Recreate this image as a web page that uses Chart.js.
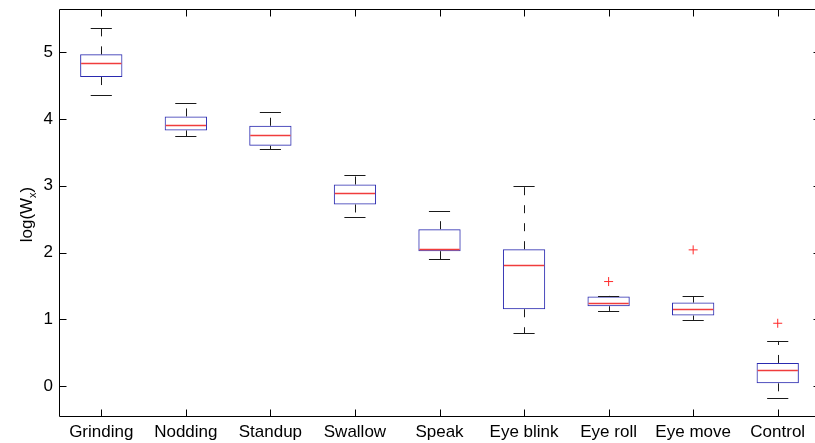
<!DOCTYPE html>
<html>
<head>
<meta charset="utf-8">
<script src="https://cdn.jsdelivr.net/npm/chart.js@4/dist/chart.umd.min.js"></script>
<style>
  html, body { margin: 0; padding: 0; overflow: hidden; background: #fff; }
  canvas { display: block; }
</style>
</head>
<body>
<canvas id="chart" width="828" height="443"></canvas>
<script>
// Box-plot summary of log(W_x) per activity
const categories  = ['Grinding', 'Nodding', 'Standup', 'Swallow', 'Speak', 'Eye blink', 'Eye roll', 'Eye move', 'Control'];
const whiskerLow  = [4.36, 3.74, 3.55, 2.54, 1.90, 0.79, 1.125, 0.99, -0.18];
const quartile1   = [4.63, 3.83, 3.60, 2.72, 2.02, 1.15, 1.195, 1.055, 0.04];
const medians     = [4.84, 3.91, 3.76, 2.89, 2.05, 1.81, 1.24, 1.155, 0.235];
const quartile3   = [4.97, 4.04, 3.90, 3.02, 2.35, 2.05, 1.34, 1.25, 0.345];
const whiskerHigh = [5.37, 4.24, 4.11, 3.16, 2.62, 3.00, 1.35, 1.345, 0.675];
const outliers    = [null, null, null, null, null, null, 1.565, 2.04, 0.94];
const yTicks      = [0, 1, 2, 3, 4, 5];
const yMin = -0.45, yMax = 5.65;

const BOX_BLUE = '#2a2ab0';
const MEDIAN_RED = '#f03c3c';
const FONT = 'Liberation Sans, Arial, Helvetica, sans-serif';

const px = v => Math.round(v) + 0.5;

// Medians, dashed whiskers, caps, frame and inward tick marks
const boxDecor = {
  id: 'boxDecor',
  afterDatasetsDraw(chart) {
    const { ctx, scales: { x, y } } = chart;
    const catW = x.getPixelForValue(1) - x.getPixelForValue(0);
    const boxHalf = catW * 0.25;
    const capHalf = catW * 0.125;
    ctx.save();
    categories.forEach((_, i) => {
      const cx = x.getPixelForValue(i);
      const yLo = y.getPixelForValue(whiskerLow[i]);
      const yQ1 = y.getPixelForValue(quartile1[i]);
      const yQ3 = y.getPixelForValue(quartile3[i]);
      const yHi = y.getPixelForValue(whiskerHigh[i]);
      const yMed = y.getPixelForValue(medians[i]);
      // whiskers
      ctx.lineWidth = 1;
      ctx.strokeStyle = '#1a1a1a';
      ctx.setLineDash([8, 10]);
      ctx.beginPath();
      ctx.moveTo(px(cx), yQ3);
      ctx.lineTo(px(cx), yHi);
      ctx.moveTo(px(cx), yQ1);
      ctx.lineTo(px(cx), yLo);
      ctx.stroke();
      ctx.setLineDash([]);
      // caps
      ctx.beginPath();
      ctx.moveTo(cx - capHalf, px(yHi));
      ctx.lineTo(cx + capHalf, px(yHi));
      ctx.moveTo(cx - capHalf, px(yLo));
      ctx.lineTo(cx + capHalf, px(yLo));
      ctx.stroke();
      // median
      ctx.lineWidth = 1.5;
      ctx.strokeStyle = MEDIAN_RED;
      ctx.beginPath();
      ctx.moveTo(cx - boxHalf + 1, px(yMed));
      ctx.lineTo(cx + boxHalf - 1, px(yMed));
      ctx.stroke();
    });
    ctx.restore();
  },
  afterDraw(chart) {
    const { ctx, chartArea: a, scales: { x, y } } = chart;
    const L = px(a.left), R = px(a.right), T = px(a.top), B = px(a.bottom);
    const tl = 7;
    ctx.save();
    ctx.strokeStyle = '#000';
    ctx.lineWidth = 1;
    ctx.beginPath();
    ctx.rect(L, T, R - L, B - T);
    yTicks.forEach(v => {
      const ty = px(y.getPixelForValue(v));
      ctx.moveTo(L, ty); ctx.lineTo(L + tl, ty);
      ctx.moveTo(R, ty); ctx.lineTo(R - tl, ty);
    });
    categories.forEach((_, i) => {
      const tx = px(x.getPixelForValue(i));
      ctx.moveTo(tx, B); ctx.lineTo(tx, B - tl);
      ctx.moveTo(tx, T); ctx.lineTo(tx, T + tl);
    });
    ctx.stroke();

    // y-axis title: log(W_x)
    ctx.fillStyle = '#000';
    ctx.textBaseline = 'alphabetic';
    ctx.textAlign = 'left';
    const mainFont = '17px ' + FONT, subFont = '11px ' + FONT;
    ctx.font = mainFont;
    const w1 = ctx.measureText('log(W').width;
    const w3 = ctx.measureText(')').width;
    ctx.font = subFont;
    const w2 = ctx.measureText('x').width;
    const total = w1 + w2 + w3;
    ctx.translate(32, (a.top + a.bottom) / 2 + 2);
    ctx.rotate(-Math.PI / 2);
    const start = -total / 2;
    ctx.font = mainFont;
    ctx.fillText('log(W', start, 0);
    ctx.font = subFont;
    ctx.fillText('x', start + w1, 4);
    ctx.font = mainFont;
    ctx.fillText(')', start + w1 + w2, 0);
    ctx.restore();
  }
};

new Chart(document.getElementById('chart'), {
  type: 'bar',
  data: {
    labels: categories,
    datasets: [
      {
        label: 'IQR',
        data: categories.map((_, i) => [quartile1[i], quartile3[i]]),
        backgroundColor: 'rgba(0,0,0,0)',
        borderColor: BOX_BLUE,
        borderWidth: 1,
        borderSkipped: false,
        categoryPercentage: 1,
        barPercentage: 0.5
      },
      {
        type: 'line',
        label: 'Outliers',
        data: outliers,
        showLine: false,
        pointStyle: 'cross',
        pointRadius: 4.5,
        pointBorderWidth: 1,
        borderColor: '#ff2a2a',
        backgroundColor: '#ff2a2a'
      }
    ]
  },
  options: {
    responsive: false,
    animation: false,
    devicePixelRatio: 1,
    layout: { padding: { top: 9, right: 8, left: 0, bottom: 0 } },
    plugins: { legend: { display: false }, tooltip: { enabled: false } },
    scales: {
      x: {
        type: 'category',
        offset: true,
        grid: { display: false, drawTicks: false },
        border: { display: false },
        ticks: { color: '#000', font: { family: FONT, size: 17 }, padding: 6, maxRotation: 0, autoSkip: false },
        afterFit: s => { s.height = 27; s.paddingLeft = 0; s.paddingRight = 0; }
      },
      y: {
        type: 'linear',
        min: yMin,
        max: yMax,
        grid: { display: false, drawTicks: false },
        border: { display: false },
        ticks: { color: '#000', font: { family: FONT, size: 17 }, padding: 6 },
        afterBuildTicks: s => { s.ticks = yTicks.map(v => ({ value: v })); },
        afterFit: s => { s.width = 59; s.paddingTop = 0; s.paddingBottom = 0; }
      }
    }
  },
  plugins: [boxDecor]
});
</script>
</body>
</html>
